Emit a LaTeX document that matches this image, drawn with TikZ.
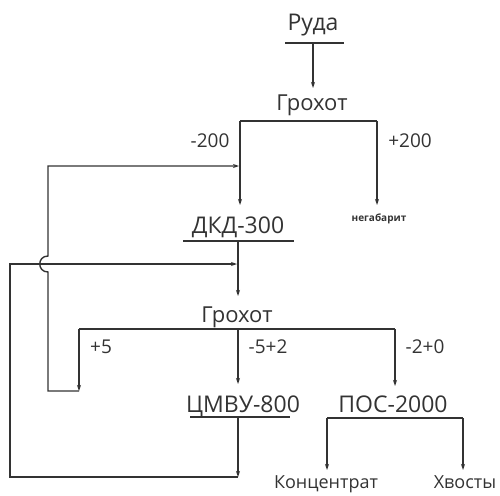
\documentclass[tikz,border=0pt]{standalone}
\usepackage{fontspec}
\setmainfont{Open Sans}
\usepackage{tikz}
\usetikzlibrary{arrows.meta}
\definecolor{ink}{HTML}{333333}

\begin{document}
\begin{tikzpicture}[x=1pt,y=-1pt,
  line width=1.4pt,
  unit/.style={inner sep=0pt,anchor=base,text=ink,font=\fontsize{23}{26}\selectfont},
  scr/.style={inner sep=0pt,anchor=base,text=ink,font=\fontsize{22}{25}\selectfont},
  frac/.style={inner sep=0pt,anchor=base,text=ink,font=\fontsize{19}{22}\selectfont},
  prod/.style={inner sep=0pt,anchor=base,text=ink,font=\fontsize{18}{21}\selectfont},
  tiny/.style={inner sep=0pt,anchor=base,text=ink,font=\fontsize{10}{12}\selectfont\bfseries},
  ln/.style={draw=ink},
  arr/.style={-{Stealth[length=6pt,width=4pt]},draw=ink}
]
\useasboundingbox (0,0) rectangle (500,495);

\node[unit] (ruda) at (313,31)  {Руда};
\node[scr]  (g1)   at (312,110) {Грохот};
\node[frac] (m200) at (210,147) {-200};
\node[frac] (p200) at (410,147) {+200};
\node[tiny] (neg)  at (379,221) {негабарит};
\node[unit] (dkd)  at (238,233) {ДКД-300};
\node[scr]  (g2)   at (237,322) {Грохот};
\node[frac] (p5)   at (101,353) {+5};
\node[frac] (m52)  at (268,353) {-5+2};
\node[frac] (m20)  at (425,353) {-2+0};
\node[unit] (cmvu) at (243,412) {ЦМВУ-800};
\node[unit] (pos)  at (393,412) {ПОС-2000};
\node[prod] (konc) at (326,488) {Концентрат};
\node[prod] (hvost) at (465,488) {Хвосты};

\coordinate (ruda-o) at (313,43);
\coordinate (g1-i)   at (313,88);
\coordinate (s1l)    at (240,121);
\coordinate (s1r)    at (377,121);
\coordinate (dkd-i)  at (240,205);
\coordinate (neg-i)  at (377,205);
\coordinate (dkd-o)  at (238,241);
\coordinate (g2-i)   at (238,296);
\coordinate (s2l)    at (79,329);
\coordinate (s2m)    at (238,329);
\coordinate (s2r)    at (395,329);
\coordinate (cmvu-i) at (238,384);
\coordinate (pos-i)  at (395,386);
\coordinate (cmvu-o) at (238,417);
\coordinate (s3l)    at (327,418);
\coordinate (s3r)    at (463,418);
\coordinate (konc-i) at (327,470);
\coordinate (hvost-i) at (463,470);
\coordinate (ret1)   at (79,391);
\coordinate (ret2)   at (238,477);

\draw[ln] (285,43) -- (344,43);
\draw[ln] (183,241) -- (294,241);
\draw[ln] (190,417) -- (290,417);

\draw[arr] (ruda-o) -- (g1-i);
\draw[ln] (s1l) -- (s1r);
\draw[arr] (s1l) -- (dkd-i);
\draw[arr] (s1r) -- (neg-i);
\draw[arr] (dkd-o) -- (g2-i);
\draw[ln] (s2l) -- (s2r);
\draw[arr] (s2m) -- (cmvu-i);
\draw[arr] (s2r) -- (pos-i);
\draw[ln] (s3l) -- (s3r);
\draw[arr] (s3l) -- (konc-i);
\draw[arr] (s3r) -- (hvost-i);

\draw[arr] (s2l) -- (ret1);
\draw[arr] (ret1) -- (48,391) -- (48,272) .. controls (37,272) and (37,256) .. (48,256)
  -- (48,166) -- (239,166);
\draw[arr] (cmvu-o) -- (ret2);
\draw[arr] (ret2) -- (10,477) -- (10,264) -- (237,264);
\end{tikzpicture}
\end{document}
